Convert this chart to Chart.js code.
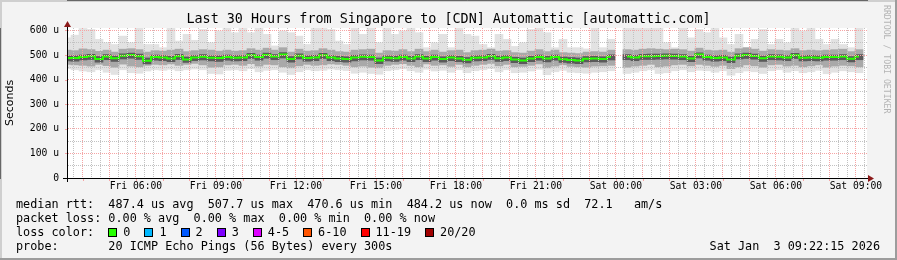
<!DOCTYPE html>
<html>
<head>
<meta charset="utf-8">
<title>Smokeping - automattic.com</title>
<script src="https://cdn.jsdelivr.net/npm/chart.js@4.4.0/dist/chart.umd.min.js"></script>
<style>
    html, body { margin: 0; padding: 0; background: #f3f3f3; }
    #wrap { position: relative; width: 897px; height: 260px; overflow: hidden; }
    #graph { position: absolute; left: 0; top: 0; }
    .mono { font-family: "DejaVu Sans Mono", monospace; color: #000; white-space: pre; }
    #legend { position: absolute; left: 16px; top: 197px; font-size: 11.8px; line-height: 14px; }
    #stamp { position: absolute; right: 17px; top: 239px; font-size: 11.8px; line-height: 14px; }
    .sw { display: inline-block; width: 7px; height: 7px; border: 1px solid #000; margin-right: 6px; vertical-align: -1px; }
    .item { margin-right: 14px; }
    #mark { position: absolute; left: 882px; top: 5px; writing-mode: vertical-rl; font-size: 8.2px; color: #b4b4b4; }
</style>
</head>
<body>
<div id="wrap">
    <canvas id="graph" width="897" height="260"></canvas>
    <div id="legend" class="mono"></div>
    <div id="stamp" class="mono">Sat Jan  3 09:22:15 2026</div>
    <div id="mark" class="mono">RRDTOOL / TOBI OETIKER</div>
</div>
<script>
// one sample every 18 minutes, starting Fri 03:25 (minutes from the left edge)
const STEP = 18;

// median rtt in microseconds (null = no data)
const median = [
    488, 488, 492, 495, 484, 494, 487, 497, 500, 495,
    477, 492, 490, 486, 495, 482, 490, 493, 489, 488,
    492, 489, 490, 499, 492, 500, 494, 502, 484, 497,
    488, 490, 499, 490, 486, 484, 490, 493, 492, 478,
    489, 487, 492, 486, 494, 486, 492, 484, 490, 486,
    481, 489, 490, 495, 487, 490, 482, 478, 486, 492,
    486, 492, 483, 480, 478, 485, 486, 484, 493, null,
    494, 490, 495, 495, 496, 497, 496, 494, 486, 502,
    492, 488, 490, 482, 497, 500, 496, 487, 494, 493,
    490, 499, 489, 490, 489, 492, 492, 494, 485, 494
];

// outer smoke (slowest / fastest pings)
const smokeMax = [
    570, 581, 608, 604, 564, 550, 543, 577, 550, 611,
    543, 543, 530, 615, 557, 584, 560, 604, 550, 598,
    611, 591, 611, 591, 615, 584, 537, 598, 591, 577,
    543, 611, 615, 604, 557, 543, 615, 584, 615, 550,
    615, 584, 598, 611, 591, 530, 550, 584, 530, 615,
    584, 577, 543, 530, 584, 564, 535, 550, 604, 611,
    591, 530, 564, 530, 530, 525, 611, 530, 564, null,
    611, 611, 615, 615, 611, 550, 530, 615, 570, 604,
    591, 611, 570, 543, 584, 530, 564, 604, 543, 564,
    550, 611, 598, 611, 564, 543, 564, 543, 530, 615
];
const smokeMin = [
    445, 440, 435, 432, 440, 430, 421, 440, 428, 426,
    435, 440, 438, 442, 436, 440, 443, 440, 425, 423,
    438, 440, 436, 444, 432, 438, 440, 430, 421, 432,
    440, 436, 438, 443, 440, 437, 426, 430, 425, 422,
    436, 440, 444, 436, 430, 442, 435, 438, 430, 440,
    428, 436, 440, 445, 432, 440, 428, 430, 435, 442,
    420, 432, 438, 430, 428, 426, 430, 432, 436, null,
    425, 430, 436, 440, 425, 428, 436, 440, 432, 438,
    436, 430, 436, 418, 428, 435, 432, 425, 436, 440,
    430, 436, 428, 432, 438, 424, 430, 436, 432, 428
];

// middle smoke
const midHigh = [
    520, 518, 525, 522, 515, 520, 512, 524, 526, 522,
    512, 518, 516, 520, 524, 514, 518, 522, 520, 516,
    520, 516, 518, 526, 520, 528, 520, 530, 512, 524,
    516, 518, 526, 520, 514, 512, 520, 522, 524, 508,
    518, 516, 522, 514, 524, 514, 520, 512, 518, 520,
    510, 518, 520, 524, 516, 518, 510, 508, 516, 522,
    514, 520, 510, 508, 506, 512, 514, 512, 520, null,
    522, 520, 524, 526, 524, 522, 524, 522, 516, 528,
    520, 518, 520, 512, 526, 530, 524, 516, 522, 520,
    518, 526, 518, 520, 518, 520, 522, 524, 514, 522
];
const midLow = [
    462, 460, 458, 455, 462, 457, 450, 463, 455, 452,
    458, 462, 460, 464, 458, 462, 466, 460, 450, 452,
    460, 462, 458, 465, 455, 462, 460, 452, 448, 456,
    462, 458, 460, 464, 462, 458, 452, 455, 450, 448,
    458, 462, 465, 458, 452, 464, 458, 460, 454, 462,
    452, 458, 462, 466, 456, 462, 452, 454, 458, 464,
    448, 455, 460, 454, 452, 450, 455, 456, 458, null,
    450, 455, 458, 462, 452, 455, 460, 462, 456, 462,
    458, 454, 458, 445, 452, 460, 456, 450, 460, 462,
    455, 458, 452, 456, 460, 450, 455, 458, 456, 452
];

// dark core around the median
const coreHigh = [
    496, 497, 500, 503, 494, 502, 496, 505, 508, 504,
    488, 500, 498, 495, 503, 492, 498, 502, 497, 497,
    500, 498, 498, 507, 500, 508, 502, 510, 494, 505,
    497, 499, 507, 498, 495, 493, 499, 501, 500, 488,
    497, 496, 500, 495, 502, 495, 500, 493, 498, 495,
    490, 497, 498, 503, 496, 498, 491, 488, 495, 500,
    495, 500, 492, 490, 488, 494, 495, 493, 501, null,
    502, 499, 503, 504, 504, 505, 504, 502, 495, 509,
    500, 497, 499, 492, 505, 508, 504, 496, 502, 501,
    498, 507, 497, 499, 497, 500, 500, 502, 494, 502
];
const coreLow = [
    476, 475, 480, 482, 471, 481, 474, 484, 487, 482,
    464, 479, 477, 473, 482, 470, 477, 480, 476, 474,
    479, 476, 477, 486, 479, 487, 481, 488, 471, 484,
    475, 477, 486, 477, 473, 471, 476, 480, 479, 465,
    476, 474, 479, 473, 481, 473, 479, 471, 477, 473,
    468, 476, 477, 482, 474, 477, 469, 465, 473, 479,
    472, 479, 470, 467, 465, 472, 473, 471, 480, null,
    481, 477, 482, 482, 483, 484, 483, 481, 473, 488,
    479, 475, 477, 469, 484, 486, 483, 474, 481, 480,
    477, 486, 476, 477, 476, 479, 479, 481, 472, 481
];

const yTickLabels = ['0', '100 u', '200 u', '300 u', '400 u', '500 u', '600 u'];
const xTickLabels = ['Fri 06:00', 'Fri 09:00', 'Fri 12:00', 'Fri 15:00', 'Fri 18:00',
                     'Fri 21:00', 'Sat 00:00', 'Sat 03:00', 'Sat 06:00', 'Sat 09:00'];
const FIRST_LABEL = 155;   // Fri 06:00, minutes after the left edge
const FIRST_HOUR = 35;     // Fri 04:00

const lossLabels = ['0', '1', '2', '3', '4-5', '6-10', '11-19', '20/20'];
const lossColors = ['#26ff00', '#00b8ff', '#0059ff', '#7e00ff', '#dd00ff', '#ff5500', '#ff0000', '#a00000'];

const MAJOR = '#f6a4a4';
const MINOR = '#c2c2c2';

function band(lo, hi) {
    return median.map((m, i) => ({ x: i * STEP, y: hi[i] == null ? null : [lo[i], hi[i]] }));
}

function smoke(lo, hi, color, order) {
    return {
        type: 'bar',
        data: band(lo, hi),
        backgroundColor: color,
        borderWidth: 0,
        grouped: false,
        barPercentage: 1,
        categoryPercentage: 1,
        order: order
    };
}

// background, frame, axis ends and arrows the way rrdtool draws them
const rrdFrame = {
    id: 'rrdFrame',
    beforeDraw(chart) {
        const { ctx, chartArea: a, width, height } = chart;
        ctx.save();
        ctx.fillStyle = '#f3f3f3';
        ctx.fillRect(0, 0, width, height);
        ctx.fillStyle = '#ffffff';
        ctx.fillRect(a.left, a.top, a.right - a.left, a.bottom - a.top);
        ctx.fillStyle = '#cfcfcf';
        ctx.fillRect(0, 0, width, 2);
        ctx.fillRect(0, 0, 2, height);
        ctx.fillStyle = '#9c9c9c';
        ctx.fillRect(0, height - 2, width, 2);
        ctx.fillRect(width - 2, 0, 2, height);
        ctx.restore();
    },
    afterDraw(chart) {
        const { ctx, chartArea: a } = chart;
        const xs = chart.scales.x, ys = chart.scales.y;
        const x0 = a.left + 0.5, y0 = a.bottom + 0.5;
        ctx.save();
        ctx.lineWidth = 1;
        // little ticks outside the plot
        ctx.strokeStyle = MAJOR;
        ctx.beginPath();
        for (let v = 0; v <= 600; v += 100) {
            const py = Math.round(ys.getPixelForValue(v)) + 0.5;
            ctx.moveTo(a.left - 2, py);
            ctx.lineTo(a.left, py);
        }
        for (let t = FIRST_HOUR; t < 1800; t += 60) {
            const px = Math.round(xs.getPixelForValue(t)) + 0.5;
            ctx.moveTo(px, a.bottom + 1);
            ctx.lineTo(px, a.bottom + 3);
        }
        ctx.stroke();
        ctx.strokeStyle = '#000';
        ctx.beginPath();
        ctx.moveTo(a.left - 4, y0);
        ctx.lineTo(a.right + 2, y0);
        ctx.moveTo(x0, a.bottom + 4);
        ctx.lineTo(x0, a.top - 2);
        ctx.stroke();
        ctx.fillStyle = '#8b1a1a';
        ctx.beginPath();
        ctx.moveTo(x0 - 3.5, a.top - 1);
        ctx.lineTo(x0 + 3.5, a.top - 1);
        ctx.lineTo(x0, a.top - 7);
        ctx.closePath();
        ctx.fill();
        ctx.beginPath();
        ctx.moveTo(a.right + 1, y0 - 3.5);
        ctx.lineTo(a.right + 1, y0 + 3.5);
        ctx.lineTo(a.right + 7, y0);
        ctx.closePath();
        ctx.fill();
        ctx.restore();
    }
};

Chart.defaults.font.family = '"DejaVu Sans Mono", monospace';
Chart.defaults.color = '#000';

const ctx = document.getElementById('graph').getContext('2d');
new Chart(ctx, {
    type: 'bar',
    data: {
        datasets: [
            {
                type: 'line',
                data: median.map((m, i) => ({ x: i * STEP, y: m })),
                borderColor: '#26ff00',
                borderWidth: 2,
                pointRadius: 0,
                stepped: 'middle',
                spanGaps: false,
                order: 0
            },
            smoke(coreLow, coreHigh, '#5a5a5a', 1),
            smoke(midLow, midHigh, '#a9a9a9', 2),
            smoke(smokeMin, smokeMax, '#e2e2e2', 3)
        ]
    },
    options: {
        responsive: false,
        animation: false,
        events: [],
        layout: { padding: 0 },
        plugins: {
            legend: { display: false },
            tooltip: { enabled: false },
            title: {
                display: true,
                text: 'Last 30 Hours from Singapore to [CDN] Automattic [automattic.com]',
                color: '#000',
                font: { family: '"DejaVu Sans Mono", monospace', size: 13.4, weight: 'normal', lineHeight: 1 },
                padding: { top: 13, bottom: 1.6 }
            }
        },
        scales: {
            x: {
                type: 'linear',
                min: 0,
                max: 1800,
                offset: false,
                afterFit: s => { s.height = 82; },
                afterBuildTicks: s => {
                    const ticks = [];
                    for (let t = 15; t <= 1800; t += 20) ticks.push({ value: t });
                    s.ticks = ticks;
                },
                grid: {
                    z: 1,
                    offset: false,
                    drawTicks: false,
                    lineWidth: 1,
                    color: c => (c.tick && (c.tick.value - FIRST_HOUR) % 60 === 0) ? MAJOR : MINOR
                },
                border: { display: true, color: '#000', dash: [1, 1] },
                ticks: {
                    autoSkip: false,
                    maxRotation: 0,
                    minRotation: 0,
                    padding: 3,
                    font: { size: 9.7 },
                    callback: v => {
                        const k = (v - FIRST_LABEL) / 180;
                        return Number.isInteger(k) && xTickLabels[k] ? xTickLabels[k] : '';
                    }
                }
            },
            y: {
                type: 'linear',
                min: 0,
                max: 610,
                afterFit: s => { s.width = 67; },
                afterBuildTicks: s => {
                    const ticks = [];
                    for (let v = 0; v <= 600; v += 50) ticks.push({ value: v });
                    s.ticks = ticks;
                },
                grid: {
                    z: 1,
                    drawTicks: false,
                    lineWidth: 1,
                    color: c => (c.tick && c.tick.value % 100 === 0) ? MAJOR : MINOR
                },
                border: { display: true, color: '#000', dash: [1, 1] },
                ticks: {
                    autoSkip: false,
                    padding: 8,
                    font: { size: 9.7 },
                    callback: v => v % 100 === 0 ? yTickLabels[v / 100] : ''
                },
                title: {
                    display: true,
                    text: 'Seconds',
                    color: '#000',
                    font: { family: '"DejaVu Sans", sans-serif', size: 11 },
                    padding: { top: 4, bottom: 0 }
                }
            },
            right: {
                type: 'linear',
                position: 'right',
                afterFit: s => { s.width = 30; },
                grid: { display: false, drawOnChartArea: false },
                border: { display: false },
                ticks: { display: false }
            }
        }
    },
    plugins: [rrdFrame]
});

// legend block under the graph
const legend = document.getElementById('legend');
const swatches = lossLabels.map((l, i) =>
    '<span class="item"><span class="sw" style="background:' + lossColors[i] + '"></span>' + l + '</span>').join('');
legend.innerHTML =
    'median rtt:  487.4 us avg  507.7 us max  470.6 us min  484.2 us now  0.0 ms sd  72.1   am/s\n' +
    'packet loss: 0.00 % avg  0.00 % max  0.00 % min  0.00 % now\n' +
    'loss color:  ' + swatches + '\n' +
    'probe:       20 ICMP Echo Pings (56 Bytes) every 300s';
</script>
</body>
</html>
